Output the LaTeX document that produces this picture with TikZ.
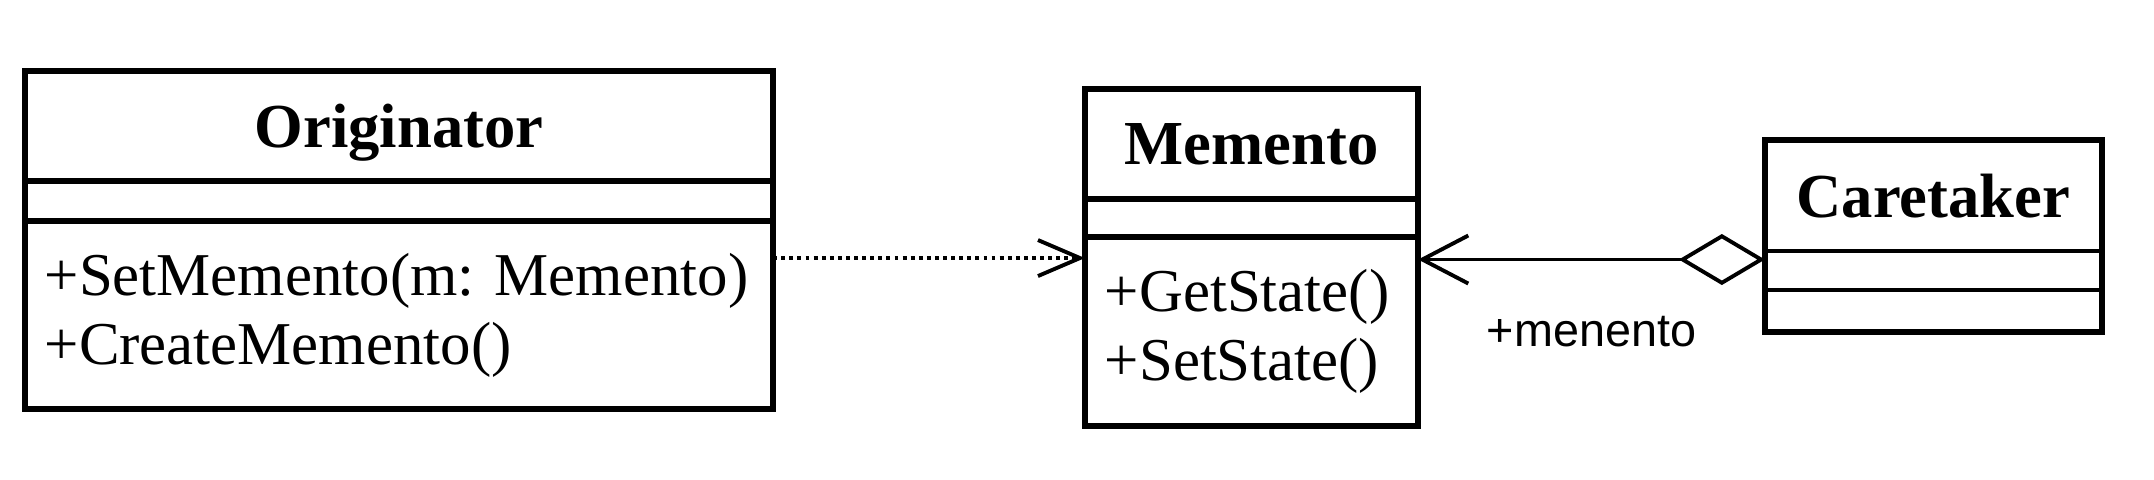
\documentclass[tikz,border=0pt]{standalone}
\usepackage{fontspec}
\setmainfont{Liberation Serif}
\newfontfamily\assocfont{Liberation Sans}
\usepackage{tikz}
\usetikzlibrary{positioning, arrows.meta}

\tikzstyle{classname} = [rectangle, draw=black, line width=1.7pt, outer sep=0pt, inner sep=0pt, text depth=0pt, font=\fontsize{17.8}{20}\selectfont\bfseries]
\tikzstyle{classattr} = [rectangle, draw=black, line width=1.7pt, outer sep=0pt, inner sep=0pt]
\tikzstyle{classops} = [rectangle, draw=black, line width=1.7pt, outer sep=0pt, inner xsep=0.2cm, inner ysep=0pt, align=left, font=\fontsize{17.3}{19.7}\selectfont]
\tikzstyle{dependency} = [line width=1.1pt, dash pattern=on 1.1pt off 1.2pt, -{Straight Barb[length=0.42cm, width=0.36cm]}]
\tikzstyle{association} = [line width=1.1pt, {Diamond[open, length=0.86cm, width=0.51cm]}-{Straight Barb[length=0.46cm, width=0.48cm]}]

\begin{document}
\begin{tikzpicture}[x=0.01cm, y=-0.01cm]
\useasboundingbox (0,0) rectangle (2154,480);

% Originator
\node (orig) [classname, minimum width=7.48cm, minimum height=1.10cm] at (399,126) {Originator};
\node (origattr) [classattr, minimum width=7.48cm, minimum height=0.40cm, below=0pt of orig] {};
\node (origops) [classops, text width=7.08cm, minimum height=1.88cm, below=0pt of origattr] {+SetMemento(m:~Memento)\\+CreateMemento()};

% Memento
\node (mem) [classname, minimum width=3.33cm, minimum height=1.10cm] at (1251.5,144) {Memento};
\node (memattr) [classattr, minimum width=3.33cm, minimum height=0.38cm, below=0pt of mem] {};
\node (memops) [classops, text width=2.93cm, minimum height=1.89cm, below=0pt of memattr] {+GetState()\\+SetState()};

% Caretaker
\node (care) [classname, line width=0.9pt, minimum width=3.37cm, minimum height=1.11cm] at (1933.5,195.5) {Caretaker};
\node (careattr) [classattr, line width=0.9pt, minimum width=3.37cm, minimum height=0.39cm, below=0pt of care] {};
\node (careops) [classattr, line width=0.9pt, minimum width=3.37cm, minimum height=0.42cm, below=0pt of careattr] {};
\draw [line width=1.7pt] (care.north west) rectangle (careops.south east);

% connectors
\coordinate (depstart) at ([yshift=0.57cm]origops.east);
\draw [dependency] (depstart) -- (depstart -| memops.west);
\coordinate (assocstart) at ([yshift=0.11cm]careattr.west);
\draw [association] (assocstart) -- node[midway, yshift=-0.72cm, font=\assocfont\fontsize{13.3}{15}\selectfont] {+menento} (assocstart -| memops.east);
\end{tikzpicture}
\end{document}
